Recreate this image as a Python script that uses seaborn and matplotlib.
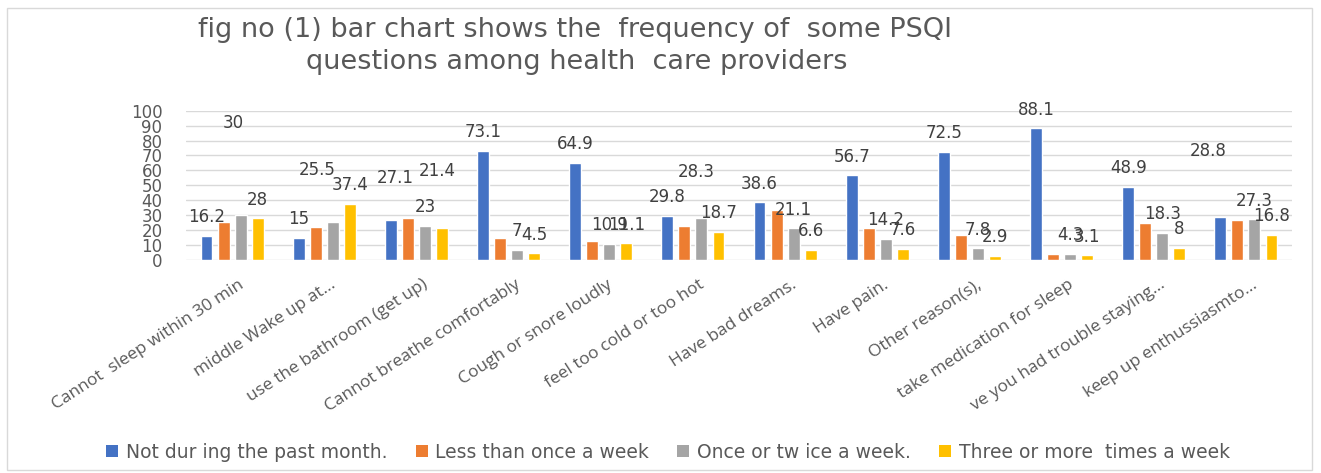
import matplotlib
matplotlib.use("Agg")
import matplotlib.pyplot as plt
import matplotlib.transforms as mtransforms
from matplotlib.patches import Rectangle, Patch
import seaborn as sns
import pandas as pd

questions = [
    "Cannot  sleep within 30 min", "middle Wake up at...", "use the bathroom (get up)",
    "Cannot breathe comfortably", "Cough or snore loudly", "feel too cold or too hot",
    "Have bad dreams.", "Have pain.", "Other reason(s),", "take medication for sleep",
    "ve you had trouble staying...", "keep up enthussiasmto...",
]
series_names = [
    "Not during the past month.", "Less than once a week",
    "Once or twice a week.", "Three or more  times a week",
]
legend_labels = [
    "Not dur ing the past month.", "Less than once a week",
    "Once or tw ice a week.", "Three or more  times a week",
]
not_past_month = [16.2, 15, 27.1, 73.1, 64.9, 29.8, 38.6, 56.7, 72.5, 88.1, 48.9, 28.8]
less_than_once = [25.7, 22.3, 27.9, 14.7, 12.8, 23.0, 33.5, 21.2, 16.5, 4.3, 25.0, 26.8]
once_or_twice = [30, 25.5, 23, 7, 10.9, 28.3, 21.1, 14.2, 7.8, 4.3, 18.3, 27.3]
three_or_more = [28, 37.4, 21.4, 4.5, 11.1, 18.7, 6.6, 7.6, 2.9, 3.1, 8, 16.8]
labelled_series = [0, 2, 3]

colors = ["#4472C4", "#ED7D31", "#A5A5A5", "#FFC000"]
# manual label displacements (dx pixels, dy data units) as in the reference
label_shift = {(2, 0): (-7, 49), (2, 1): (-16, 22), (0, 2): (4, 15),
               (3, 2): (-5, 26), (2, 5): (-5, 18), (0, 11): (-12, 32)}

values = [not_past_month, less_than_once, once_or_twice, three_or_more]
rows = []
for s, vals in zip(series_names, values):
    for q, v in zip(questions, vals):
        rows.append({"question": q, "series": s, "value": v})
df = pd.DataFrame(rows)

sns.set_theme(style="white")
plt.rcParams["font.family"] = ["DejaVu Sans"]
grey = "#595959"

fig = plt.figure(figsize=(13.21, 4.73), dpi=100)
ax = fig.add_axes([186/1321, 1 - 260/473, (1292-186)/1321, (260-110.7)/473])
sns.barplot(data=df, x="question", y="value", hue="series", palette=colors,
            width=0.74, gap=0.3, ax=ax, legend=False, saturation=1)
ax.set_ylim(0, 100)
ax.set_yticks(range(0, 101, 10))
ax.yaxis.grid(True, color="#d9d9d9", linewidth=1)
ax.set_axisbelow(True)
for sp in ax.spines.values():
    sp.set_visible(False)
ax.set_xlabel("")
ax.set_ylabel("")
ax.tick_params(axis="y", length=0, pad=17, labelsize=12, labelcolor=grey)
ax.tick_params(axis="x", length=0, pad=12, labelcolor=grey)
ax.set_xticks(range(len(questions)))
ax.set_xticklabels(questions, rotation=33, ha="right", rotation_mode="anchor",
                   fontsize=12.5, family="Open Sans")
shift = mtransforms.ScaledTranslation(6/100, 0, fig.dpi_scale_trans)
for lab in ax.get_xticklabels():
    lab.set_transform(lab.get_transform() + shift)

for si in labelled_series:
    cont = ax.containers[si]
    for qi, bar in enumerate(cont):
        v = values[si][qi]
        dx, dy = label_shift.get((si, qi), (0, 0))
        xc = bar.get_x() + bar.get_width() / 2
        ax.annotate(f"{v:g}", (xc, bar.get_height() + 12.5 + dy),
                    xytext=(dx * 0.72, 0), textcoords="offset points",
                    ha="center", va="center", fontsize=12, color="#404040",
                    annotation_clip=False)

fig.text(575/1321, 1 - 30/473, "fig no (1) bar chart shows the  frequency of  some PSQI",
         ha="center", va="center", fontsize=19.5, color=grey, family="DejaVu Sans")
fig.text(577/1321, 1 - 62/473, "questions among health  care providers",
         ha="center", va="center", fontsize=19.5, color=grey, family="DejaVu Sans")

handles = [Patch(facecolor=c, edgecolor="none") for c in colors]
fig.legend(handles, legend_labels, loc="center", bbox_to_anchor=(668/1321, 1 - 452/473),
           ncol=4, frameon=False, fontsize=13.5, labelcolor=grey, handlelength=0.65,
           handleheight=0.65, handletextpad=0.4, columnspacing=1.5)

fig.patches.append(Rectangle((7/1321, 3/473), 1305/1321, 462/473, transform=fig.transFigure,
                             fill=False, edgecolor="#d9d9d9", linewidth=1))
fig.savefig("out.png", dpi=100)
